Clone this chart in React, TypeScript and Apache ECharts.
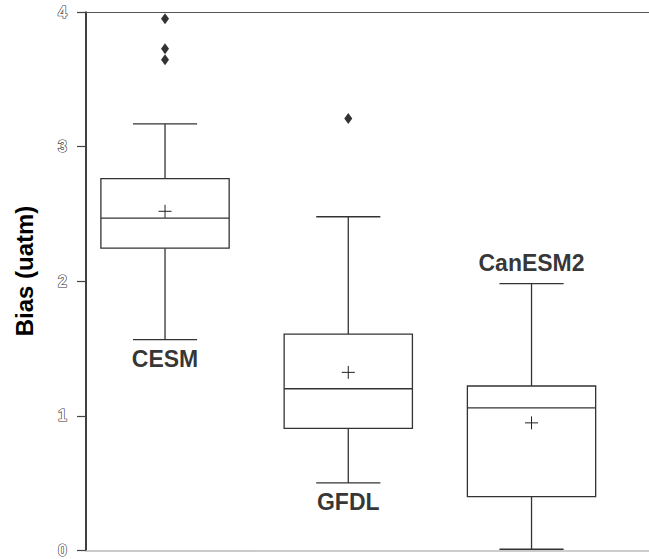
import React, { useEffect, useRef } from "react";
import * as echarts from "echarts";

const categories = ["CESM", "GFDL", "CanESM2"];
// [min whisker, Q1, median, Q3, max whisker]
const boxStats = [
  [1.6, 2.27, 2.49, 2.78, 3.18],
  [0.55, 0.95, 1.24, 1.64, 2.5],
  [0.064, 0.45, 1.1, 1.26, 2.01],
];
const means = [2.54, 1.36, 0.99];
const outliers = [
  [0, 3.95],
  [0, 3.73],
  [0, 3.65],
  [1, 3.22],
];
const labelY = [1.46, 0.41, 2.16];
const yTicks = [0, 1, 2, 3, 4];

const FONT = "'Liberation Sans', Arial, sans-serif";

export default function App() {
  const ref = useRef<HTMLDivElement>(null);
  useEffect(() => {
    const chart = echarts.init(ref.current!, null, { renderer: "svg" });
    const boxData = boxStats.map((s, i) => [i, ...s, means[i]]);
    const option: any = {
      animation: false,
      backgroundColor: "#fff",
      grid: [
        { left: 86, right: 0, top: 12, height: 546 },
        { left: 73.4, width: 549.75, top: 12, height: 546 },
      ],
      xAxis: [
        {
          gridIndex: 0,
          type: "value",
          position: "bottom",
          min: 0,
          max: 1,
          axisLine: { show: true, lineStyle: { color: "#bbb", width: 1.5 } },
          axisTick: { show: false },
          axisLabel: { show: false },
          splitLine: { show: false },
        },
        {
          gridIndex: 0,
          type: "value",
          position: "top",
          min: 0,
          max: 1,
          axisLine: { show: true, lineStyle: { color: "#555", width: 1.2 } },
          axisTick: { show: false },
          axisLabel: { show: false },
          splitLine: { show: false },
        },
        {
          gridIndex: 1,
          type: "category",
          data: categories,
          show: false,
        },
      ],
      yAxis: [
        {
          gridIndex: 0,
          type: "value",
          min: 0,
          max: 4,
          interval: 1,
          axisLine: { show: true, lineStyle: { color: "#000", width: 1.5 } },
          axisTick: { show: true, length: 9, lineStyle: { color: "#444", width: 1.2 } },
          axisLabel: {
            margin: 19,
            fontFamily: FONT,
            fontWeight: "bold",
            fontSize: 16,
            color: "#fff",
            textBorderColor: "#333",
            textBorderWidth: 1.2,
            formatter: (v: number) => (yTicks.includes(v) ? String(v) : ""),
          },
          splitLine: { show: false },
        },
        {
          gridIndex: 1,
          type: "value",
          min: 0,
          max: 4,
          show: false,
        },
      ],
      graphic: [
        {
          type: "text",
          x: 24,
          y: 271,
          rotation: Math.PI / 2,
          style: {
            text: "Bias (uatm)",
            font: `bold 24px ${FONT}`,
            fill: "#000",
            align: "center",
            verticalAlign: "middle",
          },
        },
      ],
      series: [
        {
          type: "custom",
          xAxisIndex: 2,
          yAxisIndex: 1,
          data: boxData,
          renderItem: (params: any, api: any) => {
            const idx = api.value(0);
            const band = api.size([1, 0])[0];
            const halfBox = band * 0.35;
            const halfCap = band * 0.175;
            const pMin = api.coord([idx, api.value(1)]);
            const pQ1 = api.coord([idx, api.value(2)]);
            const pMed = api.coord([idx, api.value(3)]);
            const pQ3 = api.coord([idx, api.value(4)]);
            const pMax = api.coord([idx, api.value(5)]);
            const pMean = api.coord([idx, api.value(6)]);
            const cx = pMed[0];
            const ls = { stroke: "#333", lineWidth: 1.3, fill: null };
            return {
              type: "group",
              children: [
                { type: "line", shape: { x1: cx, y1: pQ3[1], x2: cx, y2: pMax[1] }, style: ls },
                { type: "line", shape: { x1: cx, y1: pQ1[1], x2: cx, y2: pMin[1] }, style: ls },
                { type: "line", shape: { x1: cx - halfCap, y1: pMax[1], x2: cx + halfCap, y2: pMax[1] }, style: ls },
                { type: "line", shape: { x1: cx - halfCap, y1: pMin[1], x2: cx + halfCap, y2: pMin[1] }, style: ls },
                {
                  type: "rect",
                  shape: { x: cx - halfBox, y: pQ3[1], width: halfBox * 2, height: pQ1[1] - pQ3[1] },
                  style: { stroke: "#333", lineWidth: 1.3, fill: "#fff" },
                },
                { type: "line", shape: { x1: cx - halfBox, y1: pMed[1], x2: cx + halfBox, y2: pMed[1] }, style: ls },
                { type: "line", shape: { x1: cx - 6.5, y1: pMean[1], x2: cx + 6.5, y2: pMean[1] }, style: { stroke: "#222", lineWidth: 1 } },
                { type: "line", shape: { x1: cx, y1: pMean[1] - 6.5, x2: cx, y2: pMean[1] + 6.5 }, style: { stroke: "#222", lineWidth: 1 } },
              ],
            };
          },
        },
        {
          type: "scatter",
          xAxisIndex: 2,
          yAxisIndex: 1,
          symbol: "diamond",
          symbolSize: [8, 11],
          itemStyle: { color: "#000" },
          data: outliers,
        },
        {
          type: "scatter",
          xAxisIndex: 2,
          yAxisIndex: 1,
          symbolSize: 0,
          data: categories.map((c, i) => ({ value: [i, labelY[i]], name: c })),
          label: {
            show: true,
            position: "inside",
            formatter: (p: any) => p.name,
            fontFamily: FONT,
            fontWeight: "bold",
            fontSize: 23,
            color: "#000",
            textBorderWidth: 0,
          },
        },
      ],
    };
    chart.setOption(option);
    return () => chart.dispose();
  }, []);
  return (
    <div
      ref={ref}
      style={{ position: "fixed", left: 0, top: 0, width: 649, height: 559 }}
    />
  );
}
